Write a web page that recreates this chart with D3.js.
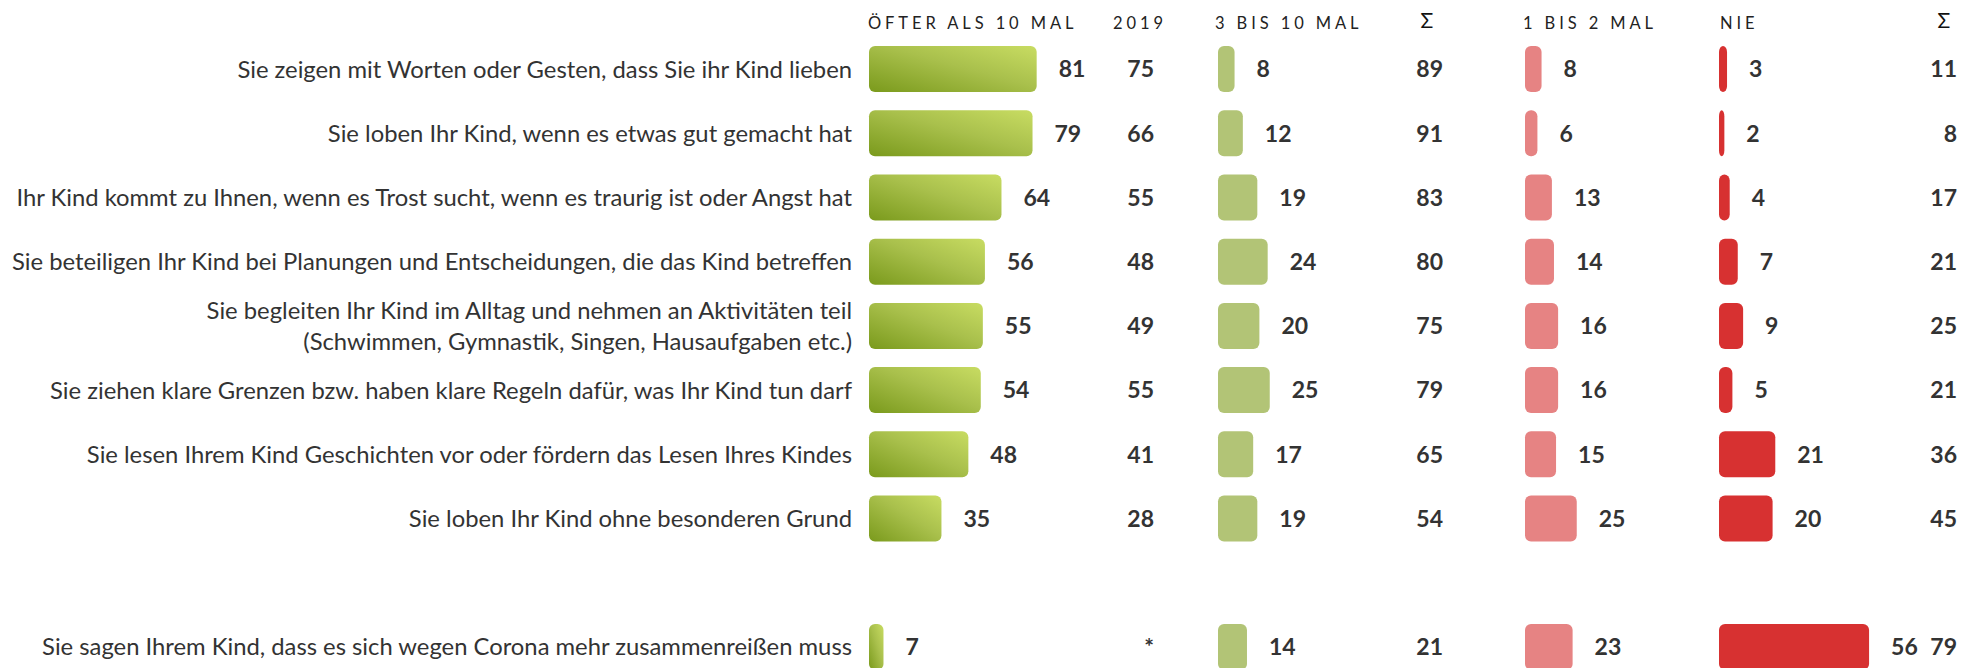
<!DOCTYPE html>
<html>
<head>
<meta charset="utf-8">
<script src="https://cdn.jsdelivr.net/npm/d3@7"></script>
<style>
  html, body { margin: 0; padding: 0; background: #fff; }
  svg { display: block; font-family: Lato, "Open Sans", sans-serif; }
</style>
</head>
<body>
<svg id="chart" width="1979" height="668"></svg>
<script>
// Statements (a blank slot separates the last one from the rest)
const statements = [
  ["Sie zeigen mit Worten oder Gesten, dass Sie ihr Kind lieben"],
  ["Sie loben Ihr Kind, wenn es etwas gut gemacht hat"],
  ["Ihr Kind kommt zu Ihnen, wenn es Trost sucht, wenn es traurig ist oder Angst hat"],
  ["Sie beteiligen Ihr Kind bei Planungen und Entscheidungen, die das Kind betreffen"],
  ["Sie begleiten Ihr Kind im Alltag und nehmen an Aktivitäten teil", "(Schwimmen, Gymnastik, Singen, Hausaufgaben etc.)"],
  ["Sie ziehen klare Grenzen bzw. haben klare Regeln dafür, was Ihr Kind tun darf"],
  ["Sie lesen Ihrem Kind Geschichten vor oder fördern das Lesen Ihres Kindes"],
  ["Sie loben Ihr Kind ohne besonderen Grund"],
  null,
  ["Sie sagen Ihrem Kind, dass es sich wegen Corona mehr zusammenreißen muss"]
];
const oefter10 = [81, 79, 64, 56, 55, 54, 48, 35, null, 7];
const wert2019 = ["75", "66", "55", "48", "49", "55", "41", "28", null, "*"];
const bis10    = [8, 12, 19, 24, 20, 25, 17, 19, null, 14];
const summePos = [89, 91, 83, 80, 75, 79, 65, 54, null, 21];
const bis2     = [8, 6, 13, 14, 16, 16, 15, 25, null, 23];
const nie      = [3, 2, 4, 7, 9, 5, 21, 20, null, 56];
const summeNeg = [11, 8, 17, 21, 25, 21, 36, 45, null, 79];
const headers  = ["ÖFTER ALS 10 MAL", "2019", "3 BIS 10 MAL", "Σ", "1 BIS 2 MAL", "NIE", "Σ"];

const svg = d3.select("#chart");
const rows = d3.range(statements.length);

const y = d3.scaleBand().domain(rows).range([37, 679]).paddingInner(0);
const barH = 46;
const xPos = d3.scaleLinear().domain([0, 100]).range([0, 207]);
const xNie = d3.scaleLinear().domain([0, 100]).range([0, 268]);

const col = {
  oefter: 869, y2019: 1154, bis10: 1218, sum1: 1443,
  bis2: 1525, nie: 1719, sum2: 1957
};
const labelGap = 22;
const textColor = "#333";

// diagonal gradient for the main green bars
const defs = svg.append("defs");
const grad = defs.append("linearGradient")
  .attr("id", "greenGrad")
  .attr("x1", 0).attr("y1", 1).attr("x2", 1).attr("y2", 0);
grad.append("stop").attr("offset", "0%").attr("stop-color", "#7a9a1c");
grad.append("stop").attr("offset", "55%").attr("stop-color", "#a9c04c");
grad.append("stop").attr("offset", "100%").attr("stop-color", "#c8dc62");

// column headers
const headerX = [
  {t: headers[0], x: col.oefter - 1},
  {t: headers[1], x: 1113},
  {t: headers[2], x: col.bis10 - 3},
  {t: headers[4], x: col.bis2 - 2},
  {t: headers[5], x: col.nie + 1}
];
svg.append("g").selectAll("text").data(headerX).join("text")
  .attr("x", d => d.x).attr("y", 29)
  .attr("text-anchor", "start")
  .attr("font-size", 16.5)
  .attr("letter-spacing", "3.9px")
  .attr("fill", "#222")
  .text(d => d.t);
svg.append("g").selectAll("text").data([{t: headers[3], x: 1427}, {t: headers[6], x: 1944}]).join("text")
  .attr("x", d => d.x).attr("y", 28)
  .attr("text-anchor", "middle")
  .attr("font-size", 21)
  .attr("fill", "#111")
  .text(d => d.t);

const present = rows.filter(i => statements[i]);

// statement labels
const lab = svg.append("g").selectAll("text").data(present).join("text")
  .attr("text-anchor", "end")
  .attr("font-size", 23.8)
  .attr("fill", textColor)
  .attr("x", 852)
  .attr("y", i => y(i) + y.bandwidth() / 2);
lab.each(function(i) {
  const lines = statements[i];
  const t = d3.select(this);
  const lh = 31;
  lines.forEach((line, k) => {
    t.append("tspan")
      .attr("x", 852)
      .attr("y", y(i) + y.bandwidth() / 2 + (k - (lines.length - 1) / 2) * lh)
      .attr("dy", "0.36em")
      .text(line);
  });
});

function barColumn(values, x0, scale, fill) {
  const g = svg.append("g");
  g.selectAll("rect").data(present).join("rect")
    .attr("x", x0)
    .attr("y", i => y(i) + (y.bandwidth() - barH) / 2)
    .attr("width", i => scale(values[i]))
    .attr("height", barH)
    .attr("rx", 6).attr("ry", 6)
    .attr("fill", fill);
  g.selectAll("text").data(present).join("text")
    .attr("x", i => x0 + scale(values[i]) + labelGap)
    .attr("y", i => y(i) + y.bandwidth() / 2)
    .attr("dy", "0.36em")
    .attr("font-size", 23)
    .attr("font-weight", 700)
    .attr("fill", textColor)
    .text(i => values[i]);
}

function numberColumn(values, x, weight) {
  svg.append("g").selectAll("text").data(present).join("text")
    .attr("x", x)
    .attr("y", i => y(i) + y.bandwidth() / 2)
    .attr("dy", "0.36em")
    .attr("text-anchor", "end")
    .attr("font-size", 23)
    .attr("font-weight", weight)
    .attr("fill", textColor)
    .text(i => values[i]);
}

barColumn(oefter10, col.oefter, xPos, "url(#greenGrad)");
numberColumn(wert2019, col.y2019, 700);
barColumn(bis10, col.bis10, xPos, "#b2c476");
numberColumn(summePos, col.sum1, 700);
barColumn(bis2, col.bis2, xPos, "#e68383");
barColumn(nie, col.nie, xNie, "#d73131");
numberColumn(summeNeg, col.sum2, 700);
</script>
</body>
</html>
